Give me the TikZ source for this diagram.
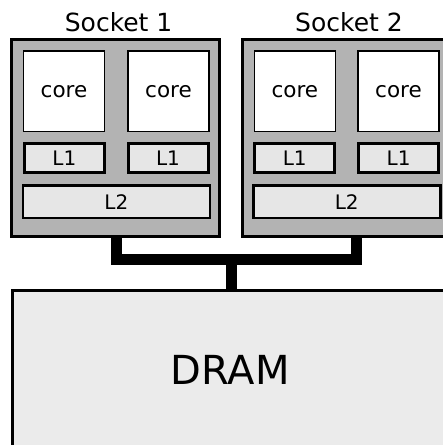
\documentclass[tikz,border=0pt]{standalone}
\usepackage{fontspec}
\setmainfont{DejaVu Sans}
\usetikzlibrary{backgrounds}
\definecolor{sockgray}{RGB}{179,179,179}
\definecolor{cachegray}{RGB}{230,230,230}
\definecolor{dramgray}{RGB}{235,235,235}
\tikzset{
  socketbox/.style={rectangle, draw=black, fill=sockgray, line width=3pt, inner sep=0pt,
    minimum width=208pt, minimum height=197.2pt},
  corebox/.style={rectangle, draw=black, fill=white, line width=1.6pt, inner sep=0pt,
    minimum width=81pt, minimum height=80.5pt, font=\fontsize{21.5}{24}\selectfont},
  lonebox/.style={rectangle, draw=black, fill=cachegray, line width=3pt, inner sep=0pt,
    minimum width=80pt, minimum height=29.3pt, font=\fontsize{20}{23}\selectfont},
  ltwobox/.style={rectangle, draw=black, fill=cachegray, line width=2.5pt, inner sep=0pt,
    minimum width=187pt, minimum height=32.5pt, font=\fontsize{20}{23}\selectfont},
  drambox/.style={rectangle, draw=black, fill=dramgray, line width=2.5pt, inner sep=0pt,
    minimum width=435.3pt, minimum height=159.5pt, font=\fontsize{40}{46}\selectfont},
  socklabel/.style={anchor=base, inner sep=0pt, font=\fontsize{25}{28}\selectfont},
  bus/.style={draw=black, line width=11pt}
}
\begin{document}
\begin{tikzpicture}[x=1pt,y=-1pt]
\useasboundingbox (0,0) rectangle (443,445);
% sockets
\node[socketbox] (s1) at (115.5,138.1) {};
\node[socketbox] (s2) at (346.8,138.1) {};
\node[socklabel] (lab1) at (118.6,31.7) {Socket 1};
\node[socklabel] (lab2) at (349,31.7) {Socket 2};
% cores
\node[corebox] (c1) at (64,91.25) {core};
\node[corebox] (c2) at (168.5,91.25) {core};
\node[corebox] (c3) at (294.9,91.25) {core};
\node[corebox] (c4) at (398.5,91.25) {core};
% L1 caches
\node[lonebox] (l1a) at (64.3,157.85) {L1};
\node[lonebox] (l1b) at (168,157.85) {L1};
\node[lonebox] (l1c) at (294.7,157.85) {L1};
\node[lonebox] (l1d) at (398.6,157.85) {L1};
% L2 caches
\node[ltwobox] (l2a) at (116.35,201.75) {L2};
\node[ltwobox] (l2b) at (346.75,201.75) {L2};
% DRAM
\node[drambox] (dram) at (230.35,370.25) {DRAM};
% bus
\coordinate (hub) at (231.2,259);
\begin{scope}[on background layer]
\fill[white] (0,0) rectangle (443,445);
\draw[bus] ([xshift=1.2pt]s1.south) |- (hub) -| ([xshift=9.4pt]s2.south);
\draw[bus] (hub) -- (hub |- dram.north);
\end{scope}
\end{tikzpicture}
\end{document}
